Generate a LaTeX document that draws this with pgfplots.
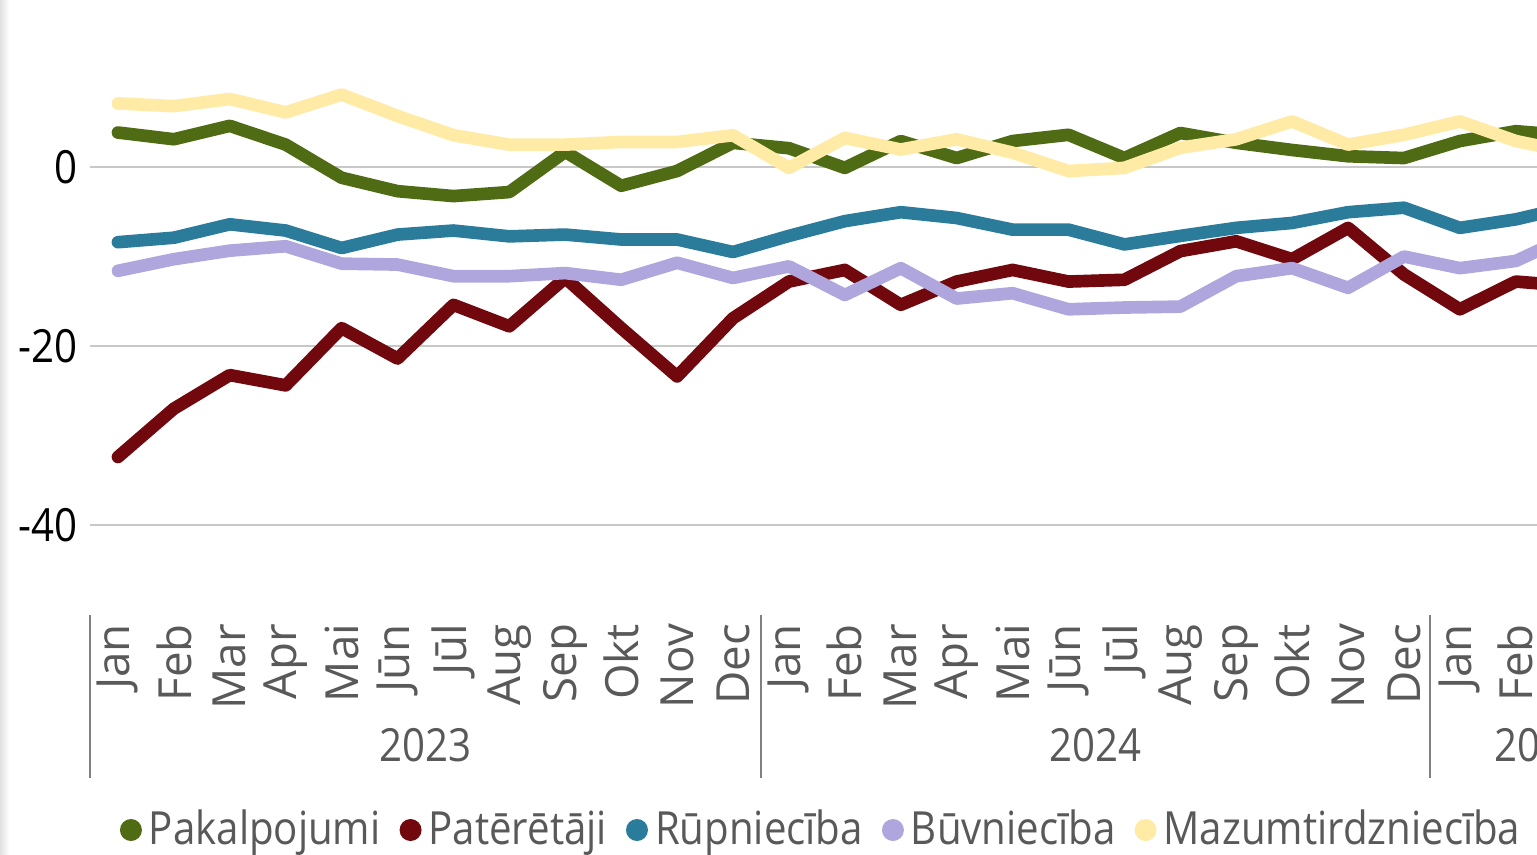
\documentclass[border=0pt]{standalone}
\usepackage{fontspec}
\setmainfont{Open Sans}
\newfontfamily\narrowfont{Open Sans}[FakeStretch=0.88]
\usepackage{pgfplots}
\usepackage{pgfplotstable}
\pgfplotsset{compat=1.18}

\definecolor{cPak}{RGB}{79,107,20}
\definecolor{cPat}{RGB}{112,8,14}
\definecolor{cRup}{RGB}{43,123,155}
\definecolor{cBuv}{RGB}{176,166,222}
\definecolor{cMaz}{RGB}{255,235,165}
\definecolor{txtgray}{RGB}{89,89,89}
\definecolor{gridgray}{RGB}{200,200,200}
\definecolor{sepgray}{RGB}{128,128,128}

% month index (Jan 2023 = 0), index 26 lies just past the cropped edge
\pgfplotstableread{
i  pak    pat    rup    buv    maz
0  3.85  -32.4  -8.4   -11.6   7.1
1  3.1   -27.0  -7.9   -10.3   6.8
2  4.6   -23.25 -6.4   -9.35   7.6
3  2.5   -24.4  -7.1   -8.85   6.1
4  -1.2  -18.0  -9.05  -10.8   8.1
5  -2.7  -21.4  -7.55  -10.9   5.7
6  -3.25 -15.4  -7.1   -12.2   3.55
7  -2.8  -17.8  -7.75  -12.2   2.5
8  1.7   -12.4  -7.55  -11.85  2.5
9  -2.1  -18.0  -8.1   -12.6   2.8
10 -0.45 -23.4  -8.1   -10.7   2.8
11 2.7   -16.9  -9.5   -12.4   3.55
12 2.1   -12.8  -7.7   -11.1  -0.1
13 -0.1  -11.5  -6.05  -14.3   3.25
14 2.9   -15.4  -5.05  -11.3   1.95
15 1.0   -12.8  -5.7   -14.7   3.1
16 2.9   -11.5  -7.0   -14.1   1.6
17 3.6   -12.8  -7.0   -15.9  -0.45
18 1.0   -12.6  -8.65  -15.7  -0.1
19 3.8   -9.4   -7.7   -15.6   2.15
20 2.7   -8.3   -6.8   -12.2   3.1
21 1.9   -10.3  -6.25  -11.3   5.1
22 1.2   -6.8   -5.05  -13.5   2.5
23 1.0   -12.0  -4.55  -10.0   3.6
24 2.9   -15.9  -6.8   -11.3   5.1
25 4.0   -12.8  -5.85  -10.5   2.9
26 3.5   -13.3  -4.4   -7.6    1.6
}\datatable

\newcommand{\lblfont}{\fontsize{13}{14}\selectfont}
\newcommand{\nlblfont}{\narrowfont\fontsize{13}{14}\selectfont}

\begin{document}
\begin{tikzpicture}
\useasboundingbox (0,0) rectangle (15.37,8.54);
\clip (0,0) rectangle (15.37,8.54);
\shade[left color=black!12, right color=white] (0,0) rectangle (0.09,8.54);
\begin{axis}[
  at={(0.90cm,2.395cm)}, anchor=south west,
  scale only axis, width=14.47cm, height=6.145cm,
  xmin=-0.5, xmax=25.38, ymin=-50, ymax=18.66,
  ytick={-40,-20,0}, yticklabels={-40,-20,0},
  ymajorgrids, grid style={gridgray, line width=0.6pt},
  xtick={0,...,25},
  xticklabels={Jan,Feb,Mar,Apr,Mai,Jūn,Jūl,Aug,Sep,Okt,Nov,Dec,
               Jan,Feb,Mar,Apr,Mai,Jūn,Jūl,Aug,Sep,Okt,Nov,Dec,Jan,Feb},
  xticklabel style={rotate=90, anchor=east, text=txtgray, font=\lblfont, inner sep=2.5pt},
  yticklabel style={text=black, font=\nlblfont},
  axis line style={draw=none}, major tick length=0pt,
  every axis plot/.append style={line width=3.6pt, line join=round, line cap=round},
  legend image code/.code={\fill[#1, draw=none] (0.1cm,0cm) circle (0.11cm);},
  legend style={at={(0.507,-0.3507)}, anchor=center, draw=none, fill=none,
    legend columns=5, font=\nlblfont, text=txtgray, inner sep=0pt,
    nodes={inner sep=2pt},
    /tikz/every even column/.append style={column sep=0.12cm}},
]
\addplot[cPak] table[x=i, y=pak] {\datatable};
\addplot[cPat] table[x=i, y=pat] {\datatable};
\addplot[cRup] table[x=i, y=rup] {\datatable};
\addplot[cBuv] table[x=i, y=buv] {\datatable};
\addplot[cMaz] table[x=i, y=maz] {\datatable};
\legend{Pakalpojumi, Patērētāji, Rūpniecība, Būvniecība, Mazumtirdzniecība}
\end{axis}
\foreach \xs in {0.90,7.61,14.30}
  \draw[sepgray, line width=0.6pt] (\xs,2.39) -- (\xs,0.76);
\node[text=txtgray, font=\nlblfont] at (4.25,1.09) {2023};
\node[text=txtgray, font=\nlblfont] at (10.95,1.09) {2024};
\node[text=txtgray, font=\nlblfont] at (15.40,1.09) {2025};
\end{tikzpicture}
\end{document}
